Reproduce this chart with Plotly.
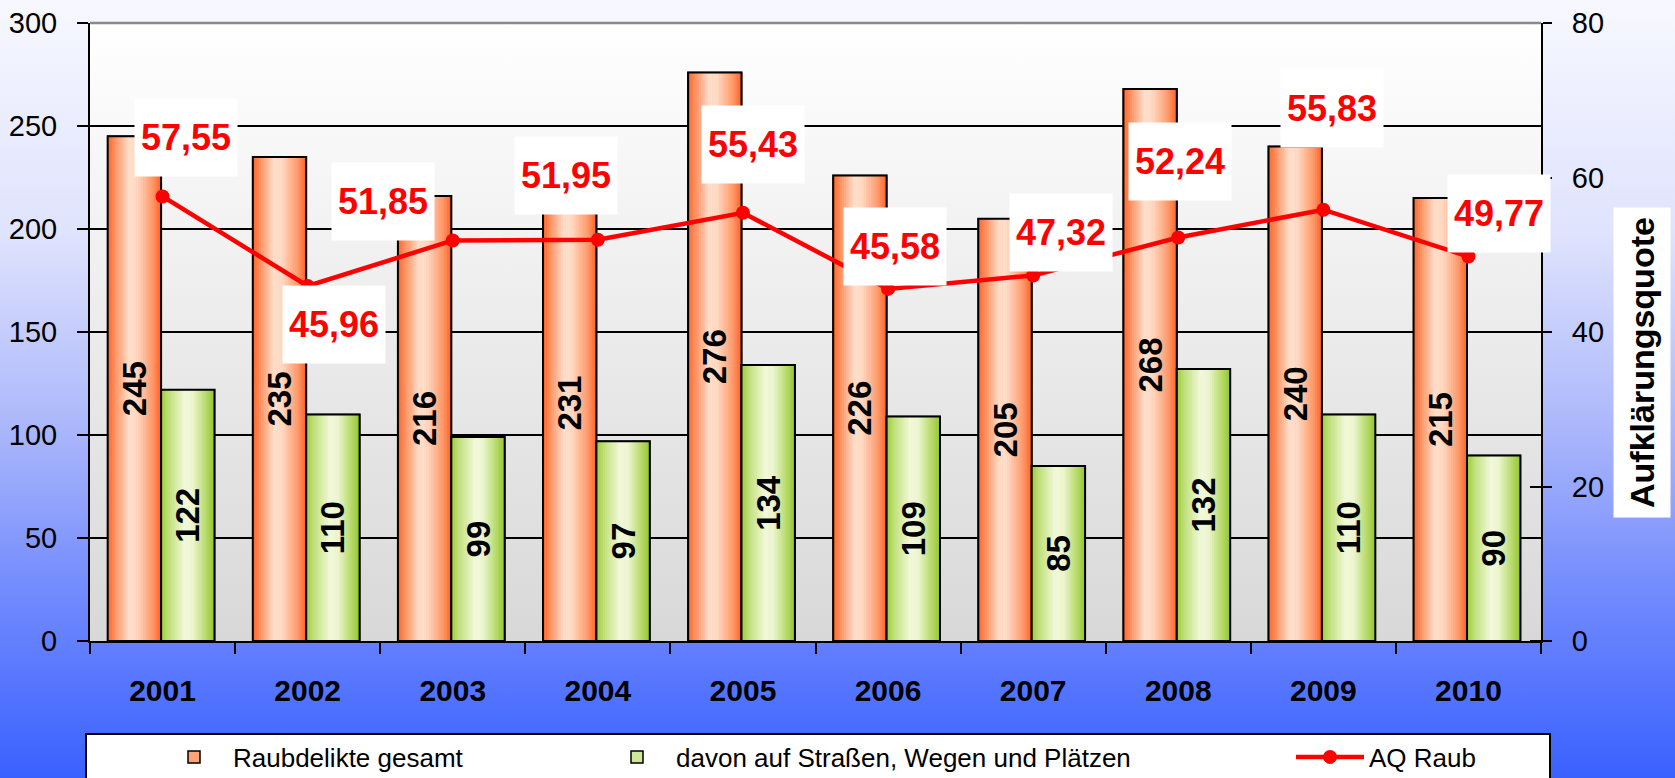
import base64
import plotly.graph_objects as go

# ---------------- data ----------------
years = ["2001", "2002", "2003", "2004", "2005", "2006", "2007", "2008", "2009", "2010"]
raub_gesamt = [245, 235, 216, 231, 276, 226, 205, 268, 240, 215]
raub_strassen = [122, 110, 99, 97, 134, 109, 85, 132, 110, 90]
aq_raub = [57.55, 45.96, 51.85, 51.95, 55.43, 45.58, 47.32, 52.24, 55.83, 49.77]

name_gesamt = "Raubdelikte gesamt"
name_strassen = "davon auf Straßen, Wegen und Plätzen"
name_aq = "AQ Raub"
y2_title = "Aufklärungsquote"

# ---------------- style ----------------
W, H = 1675, 778
ML, MR, MT, MB = 90, 134, 23, 137
PW, PH = W - ML - MR, H - MT - MB
FONT = "Liberation Sans, Arial, sans-serif"

# label offsets in pixels (dx right, dy up) for the AQ labels
label_dx = [23, 26, -70, -32, 10, 7, 28, 2, 9, 31]
label_dy = [59, -39, 39, 64, 68, 42, 43, 76, 101, 43]

orange_stops = [(0, "#ff6226"), (0.12, "#ff8a58"), (0.40, "#ffe0cc"), (0.55, "#ffdac4"),
                (0.85, "#ff9868"), (1, "#ff6226")]
green_stops = [(0, "#9ccc38"), (0.15, "#c0e07c"), (0.45, "#f3f9dc"), (0.60, "#edf5d0"),
               (0.85, "#b6da68"), (1, "#94c630")]


def hex2rgb(h):
    h = h.lstrip("#")
    return tuple(int(h[i:i + 2], 16) for i in (0, 2, 4))


def grad_color(stops, t):
    for (o0, c0), (o1, c1) in zip(stops[:-1], stops[1:]):
        if o0 <= t <= o1:
            f = (t - o0) / (o1 - o0) if o1 > o0 else 0
            a, b = hex2rgb(c0), hex2rgb(c1)
            r = [round(a[i] + (b[i] - a[i]) * f) for i in range(3)]
            return "rgb(%d,%d,%d)" % tuple(r)
    return stops[-1][1]


def svg_uri(stops):
    st = "".join('<stop offset="%s" stop-color="%s"/>' % (o, c) for o, c in stops)
    svg = ('<svg xmlns="http://www.w3.org/2000/svg" width="100" height="100" viewBox="0 0 100 100" '
           'preserveAspectRatio="none"><defs><linearGradient id="g" x1="0" y1="0" x2="0" y2="1">'
           + st + '</linearGradient></defs><rect width="100" height="100" fill="url(#g)"/></svg>')
    return "data:image/svg+xml;base64," + base64.b64encode(svg.encode()).decode()


fig = go.Figure()

BAR_W = 0.368
N_SLICES = 24


def add_gradient_bars(values, name, stops, offset, legend, legend_color):
    # base bar (legend entry)
    fig.add_trace(go.Bar(x=years, y=values, name=name, offset=offset, width=BAR_W,
                         marker=dict(color=legend_color, line=dict(color="black", width=1.5)),
                         legend=legend, showlegend=True, hoverinfo="skip"))
    sw = BAR_W / N_SLICES
    for k in range(N_SLICES):
        c = grad_color(stops, (k + 0.5) / N_SLICES)
        fig.add_trace(go.Bar(x=years, y=values, offset=offset + k * sw, width=sw,
                             marker=dict(color=c, line=dict(color=c, width=0.6)),
                             showlegend=False, hoverinfo="skip"))
    # outline + value labels
    fig.add_trace(go.Bar(x=years, y=values, offset=offset, width=BAR_W,
                         marker=dict(color="rgba(0,0,0,0)", line=dict(color="black", width=2)),
                         text=[str(v) for v in values], textposition="inside", textangle=-90,
                         insidetextanchor="middle",
                         textfont=dict(family=FONT, size=33, color="black", weight="bold"),
                         showlegend=False, hovertemplate="%{x}: %{y}<extra>" + name + "</extra>"))


add_gradient_bars(raub_gesamt, name_gesamt, orange_stops, -0.378, "legend", "#ffa27a")
add_gradient_bars(raub_strassen, name_strassen, green_stops, -0.010, "legend2", "#cfe79a")

fig.add_trace(go.Scatter(x=years, y=aq_raub, name=name_aq, yaxis="y2", mode="lines+markers",
                         line=dict(color="#ff0000", width=4.5),
                         marker=dict(color="#ff0000", size=14),
                         legend="legend3", cliponaxis=False))

# AQ labels with white boxes (x given as category index)
for i, (v, dx, dy) in enumerate(zip(aq_raub, label_dx, label_dy)):
    fig.add_annotation(x=i, y=v, xref="x", yref="y2", xshift=dx, yshift=dy,
                       xanchor="center", yanchor="middle",
                       text=("%.2f" % v).replace(".", ","), showarrow=False,
                       font=dict(family=FONT, size=36, color="#ff0000", weight="bold"),
                       bgcolor="white", width=100, height=75, borderpad=1)

# right axis title in white box
fig.add_annotation(x=(1642 - ML) / PW, y=(H - MB - 363) / PH, xref="paper", yref="paper",
                   xanchor="center", yanchor="middle",
                   text=y2_title, textangle=-90, showarrow=False,
                   font=dict(family=FONT, size=34, color="black", weight="bold"),
                   bgcolor="white", borderpad=9)

# backgrounds
paper_stops = [(0, "#f7f8ff"), (0.3, "#dfe3fd"), (0.55, "#abb7fb"), (0.78, "#6d87fd"), (1, "#3a61ff")]
plot_stops = [(0, "#ffffff"), (1, "#d8d8d8")]
fig.add_layout_image(source=svg_uri(paper_stops), xref="paper", yref="paper",
                     x=-ML / PW, y=1 + MT / PH, sizex=W / PW, sizey=H / PH,
                     xanchor="left", yanchor="top", sizing="stretch", layer="below")
fig.add_layout_image(source=svg_uri(plot_stops), xref="paper", yref="paper",
                     x=0, y=1, sizex=1, sizey=1, xanchor="left", yanchor="top",
                     sizing="stretch", layer="below")

# top border line (gray) and legend box
fig.add_shape(type="line", xref="paper", yref="paper", x0=0, x1=1, y0=1, y1=1,
              line=dict(color="#8a8a8a", width=2.5), layer="above")
fig.add_shape(type="rect", xref="paper", yref="paper",
              x0=(86 - ML) / PW, x1=(1550 - ML) / PW,
              y0=(H - MB - 800) / PH, y1=(H - MB - 734) / PH,
              fillcolor="white", line=dict(color="black", width=2), layer="below")

leg_y = (H - MB - 757) / PH
leg_common = dict(orientation="h", yanchor="middle", y=leg_y, xanchor="left",
                  bgcolor="rgba(0,0,0,0)", borderwidth=0, itemwidth=68,
                  font=dict(family=FONT, size=26, color="black"))

fig.update_layout(
    width=W, height=H,
    margin=dict(l=ML, r=MR, t=MT, b=MB, autoexpand=False),
    paper_bgcolor="#3a61ff", plot_bgcolor="rgba(0,0,0,0)",
    barmode="overlay",
    font=dict(family=FONT, color="black"),
    showlegend=True,
    legend=dict(x=(155 - ML) / PW, **leg_common),
    legend2=dict(x=(598 - ML) / PW, **leg_common),
    legend3=dict(x=(1291 - ML) / PW, **leg_common),
    xaxis=dict(type="category", showline=True, linecolor="black", linewidth=2,
               ticks="outside", tickson="boundaries", ticklen=11, tickwidth=2, tickcolor="black",
               tickfont=dict(family=FONT, size=30, color="black", weight="bold"),
               ticklabelstandoff=22, showgrid=False, zeroline=False, range=[-0.5, 9.5]),
    yaxis=dict(range=[0, 300], dtick=50, showgrid=True, gridcolor="black", gridwidth=1.5,
               zeroline=False, showline=True, linecolor="black", linewidth=2,
               ticks="outside", ticklen=11, tickwidth=2, tickcolor="black",
               tickfont=dict(family=FONT, size=29, color="black"), ticklabelstandoff=14),
    yaxis2=dict(range=[0, 80], dtick=20, overlaying="y", side="right", showgrid=False,
                zeroline=False, showline=True, linecolor="black", linewidth=2,
                ticks="outside", ticklen=9, tickwidth=2, tickcolor="black",
                minor=dict(ticks="inside", ticklen=11, tickwidth=2, tickcolor="black", dtick=20),
                tickfont=dict(family=FONT, size=29, color="black"), ticklabelstandoff=14),
)

fig.write_html("out.html", config={"displayModeBar": False},
               post_script="document.body.style.margin='0';document.body.style.overflow='hidden';")
